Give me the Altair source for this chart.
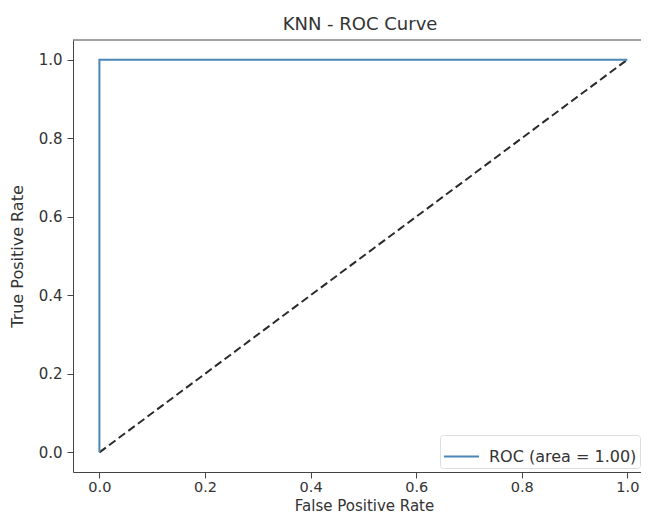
import altair as alt
import pandas as pd

# ROC curve points
fpr = [0.0, 0.0, 1.0]
tpr = [0.0, 1.0, 1.0]
roc_label = "ROC (area = 1.00)"

# chance diagonal
diag_x = [0.0, 1.0]
diag_y = [0.0, 1.0]

tick_values = [0.0, 0.2, 0.4, 0.6, 0.8, 1.0]

W, H = 568, 432
FONT = "DejaVu Sans"
TXT = "#333333"
AX = "#444444"

roc_df = pd.DataFrame({"fpr": fpr, "tpr": tpr, "idx": list(range(len(fpr))), "series": [roc_label] * len(fpr)})
diag_df = pd.DataFrame({"fpr": diag_x, "tpr": diag_y, "idx": list(range(len(diag_x)))})

xscale = alt.Scale(domain=[-0.05, 1.0258], nice=False, zero=False)
yscale = alt.Scale(domain=[-0.05, 1.05], nice=False, zero=False)

xaxis = alt.Axis(values=tick_values, format=".1f", title="False Positive Rate", grid=False,
                 tickSize=6, labelPadding=2, labelFontSize=14.5, titleY=38,
                 titleBaseline="alphabetic", titleX=291, titleFontSize=15)
yaxis = alt.Axis(values=tick_values, format=".1f", title="True Positive Rate", grid=False,
                 tickSize=6, labelPadding=5, titleX=-56, titleY=H / 2, titleBaseline="middle")

roc = alt.Chart(roc_df).mark_line(strokeWidth=2).encode(
    x=alt.X("fpr:Q", scale=xscale, axis=xaxis),
    y=alt.Y("tpr:Q", scale=yscale, axis=yaxis),
    order="idx:Q",
    color=alt.Color("series:N",
                    scale=alt.Scale(domain=[roc_label], range=["#4a86b8"]),
                    legend=alt.Legend(title=None, orient="none", legendX=367, legendY=395,
                                      symbolType="stroke", symbolSize=1225, symbolStrokeWidth=2,
                                      labelFontSize=16, labelFont=FONT, labelColor=TXT,
                                      labelOffset=9, padding=3, fillColor="white",
                                      strokeColor="#dddddd", cornerRadius=3)),
)

diag = alt.Chart(diag_df).mark_line(strokeWidth=2, strokeDash=[8, 4], color="#2b2b2b").encode(
    x=alt.X("fpr:Q", scale=xscale),
    y=alt.Y("tpr:Q", scale=yscale),
    order="idx:Q",
)

top_spine = alt.Chart(pd.DataFrame({"a": [0]})).mark_rule(color=AX, strokeWidth=1).encode(
    x=alt.value(0), x2=alt.value(W), y=alt.value(0)
)

chart = alt.layer(diag, roc, top_spine).properties(
    width=W, height=H,
    title=alt.TitleParams("KNN - ROC Curve", font=FONT, fontSize=18, fontWeight="normal",
                          color=TXT, anchor="middle", offset=6, frame="group", dx=3),
    autosize=alt.AutoSizeParams(type="none"),
    padding={"left": 65, "top": 32, "right": 0, "bottom": 43},
).configure_view(stroke=None).configure_axis(
    labelFont=FONT, titleFont=FONT, labelFontSize=15, titleFontSize=16,
    labelColor=TXT, titleColor=TXT, titleFontWeight="normal",
    domainColor=AX, tickColor=AX, domainWidth=1, tickWidth=1,
)

chart.save("out.html", embed_options={"renderer": "svg", "actions": False})
